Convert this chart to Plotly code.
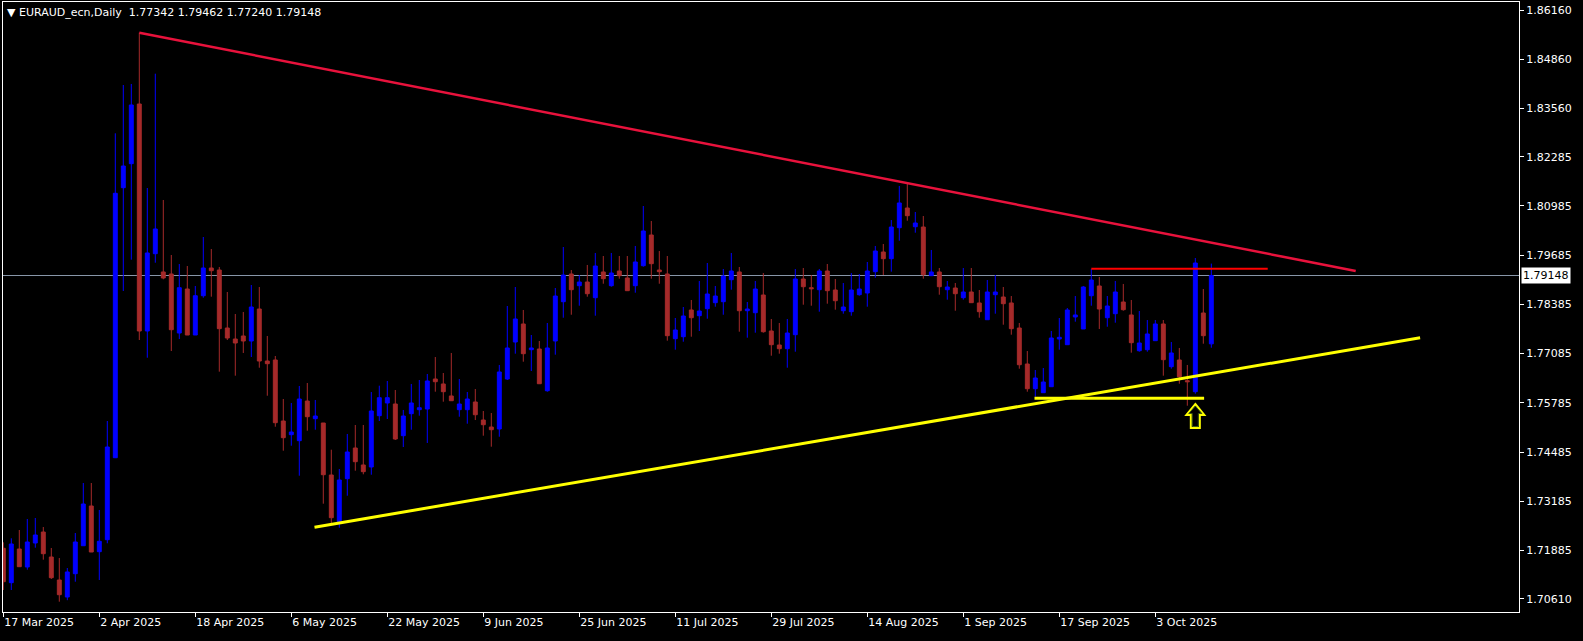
import pandas as pd
import plotly.graph_objects as go

# ---------------- data ----------------
symbol_title = "EURAUD_ecn,Daily"
first_day = "2025-03-17"
n_bars = 152

opens = [1.71941, 1.71032, 1.71922, 1.71447, 1.72081, 1.72371, 1.71711, 1.71103, 1.70654, 1.71270,
         1.72009, 1.73058, 1.71851, 1.72168, 1.74334, 1.81468, 1.82102, 1.83679, 1.77682, 1.79724,
         1.79241, 1.79188, 1.77629, 1.78791, 1.77576, 1.78614, 1.79346, 1.79293, 1.77761, 1.77470,
         1.77550, 1.77418, 1.78263, 1.76889, 1.76916, 1.75304, 1.74942, 1.74784, 1.75832, 1.75365,
         1.75251, 1.73877, 1.72644, 1.73780, 1.74591, 1.74142, 1.74089, 1.75444, 1.75780, 1.75753,
         1.74916, 1.75497, 1.75603, 1.75621, 1.76414, 1.76282, 1.75965, 1.75603, 1.75603, 1.75806,
         1.75330, 1.75145, 1.75093, 1.76414, 1.77391, 1.77867, 1.77188, 1.77206, 1.76104, 1.77418,
         1.78456, 1.79188, 1.78879, 1.78976, 1.78562, 1.79241, 1.78879, 1.79267, 1.79082, 1.78879,
         1.79407, 1.80218, 1.79293, 1.79188, 1.77478, 1.77531, 1.78237, 1.78086, 1.78271, 1.78430,
         1.78456, 1.79037, 1.79241, 1.78218, 1.78165, 1.78633, 1.77682, 1.77312, 1.77214, 1.77584,
         1.79056, 1.78826, 1.78773, 1.79267, 1.78765, 1.78218, 1.78192, 1.78641, 1.78686, 1.79249,
         1.79769, 1.79592, 1.80411, 1.80931, 1.80437, 1.80429, 1.79143, 1.79241, 1.78773, 1.78818,
         1.78562, 1.78712, 1.78422, 1.77980, 1.78641, 1.78580, 1.78422, 1.77761, 1.76810, 1.76157,
         1.76052, 1.76210, 1.77470, 1.77320, 1.78052, 1.77735, 1.78614, 1.78871, 1.78033, 1.78139,
         1.78448, 1.78105, 1.77161, 1.77188, 1.77426, 1.77867, 1.76739, 1.76916, 1.76369, 1.76078,
         1.78157, 1.77342]
highs = [1.72099, 1.72205, 1.72424, 1.72715, 1.72741, 1.72503, 1.71949, 1.71684, 1.71420, 1.72345,
         1.73666, 1.73666, 1.72953, 1.75304, 1.82905, 1.84181, 1.84208, 1.85563, 1.81460, 1.84480,
         1.81143, 1.79690, 1.79452, 1.79399, 1.78871, 1.80165, 1.79848, 1.79373, 1.78712, 1.78131,
         1.78184, 1.78897, 1.78844, 1.77550, 1.77021, 1.75885, 1.75780, 1.76229, 1.76308, 1.75859,
         1.75251, 1.74546, 1.74036, 1.74961, 1.75198, 1.75198, 1.76070, 1.76237, 1.76361, 1.76123,
         1.75595, 1.76282, 1.76387, 1.76546, 1.76995, 1.76572, 1.77101, 1.76414, 1.76070, 1.76149,
         1.75568, 1.75515, 1.76784, 1.78342, 1.78844, 1.78237, 1.77576, 1.77418, 1.77893, 1.78818,
         1.79901, 1.79293, 1.79161, 1.79426, 1.79743, 1.79663, 1.79743, 1.79663, 1.79663, 1.79928,
         1.80984, 1.80588, 1.79795, 1.79663, 1.78025, 1.78316, 1.78501, 1.79003, 1.79478, 1.78871,
         1.79320, 1.79743, 1.79373, 1.78448, 1.79003, 1.79214, 1.77999, 1.77893, 1.77999, 1.79320,
         1.79346, 1.79161, 1.79320, 1.79452, 1.79056, 1.78950, 1.79214, 1.79188, 1.79505, 1.79928,
         1.79980, 1.80614, 1.81513, 1.81566, 1.80826, 1.80720, 1.79822, 1.79346, 1.79003, 1.78950,
         1.79346, 1.79346, 1.78765, 1.79029, 1.79161, 1.78844, 1.78606, 1.77893, 1.77153, 1.76651,
         1.76704, 1.77682, 1.78025, 1.78289, 1.78606, 1.78871, 1.79320, 1.79109, 1.78606, 1.79003,
         1.78924, 1.78501, 1.78210, 1.77972, 1.77972, 1.77972, 1.77391, 1.77233, 1.76784, 1.79610,
         1.78791, 1.79462]
lows = [1.70839, 1.70839, 1.71455, 1.71375, 1.71957, 1.71640, 1.71130, 1.70530, 1.70570, 1.71058,
        1.72009, 1.71843, 1.71103, 1.72073, 1.74326, 1.78739, 1.79566, 1.77444, 1.76976, 1.79486,
        1.79048, 1.77153, 1.77470, 1.77576, 1.77576, 1.78562, 1.78588, 1.76607, 1.77444, 1.76501,
        1.77101, 1.76995, 1.76712, 1.75972, 1.75153, 1.74519, 1.74651, 1.73859, 1.75048, 1.75074,
        1.73119, 1.72601, 1.72485, 1.73330, 1.73991, 1.73896, 1.73885, 1.75304, 1.75357, 1.74802,
        1.74617, 1.75074, 1.75444, 1.74723, 1.76078, 1.75814, 1.75840, 1.75418, 1.75233, 1.75330,
        1.74916, 1.74625, 1.74889, 1.76387, 1.77082, 1.76871, 1.76625, 1.76289, 1.76078, 1.77056,
        1.78033, 1.78112, 1.78350, 1.78588, 1.78086, 1.78931, 1.78852, 1.79064, 1.78747, 1.78694,
        1.79381, 1.79064, 1.78931, 1.77426, 1.77188, 1.77399, 1.77531, 1.77682, 1.78007, 1.78324,
        1.78112, 1.78773, 1.77663, 1.77505, 1.77637, 1.77637, 1.77029, 1.77082, 1.76712, 1.77135,
        1.78377, 1.78350, 1.78192, 1.78403, 1.78245, 1.78139, 1.78086, 1.78614, 1.78324, 1.79090,
        1.79161, 1.79249, 1.80068, 1.80596, 1.80279, 1.79064, 1.79143, 1.78641, 1.78509, 1.78218,
        1.78509, 1.78430, 1.78033, 1.77980, 1.78139, 1.77848, 1.77584, 1.76686, 1.76078, 1.75946,
        1.76052, 1.76210, 1.77188, 1.77320, 1.77928, 1.77735, 1.78350, 1.77735, 1.77795, 1.77901,
        1.78218, 1.77109, 1.77135, 1.77135, 1.77426, 1.76501, 1.76686, 1.76289, 1.75708, 1.76025,
        1.77346, 1.77240]
closes = [1.71058, 1.72054, 1.71455, 1.72107, 1.72292, 1.71798, 1.71164, 1.70715, 1.71315, 1.72107,
          1.73111, 1.71843, 1.72126, 1.74617, 1.81320, 1.82041, 1.83653, 1.77682, 1.79743, 1.80377,
          1.79082, 1.77716, 1.78826, 1.77576, 1.78614, 1.79346, 1.79275, 1.77743, 1.77497, 1.77365,
          1.77418, 1.78316, 1.76889, 1.76818, 1.75259, 1.74863, 1.75013, 1.75885, 1.75418, 1.75436,
          1.73885, 1.72749, 1.73745, 1.74485, 1.74229, 1.73965, 1.75568, 1.75920, 1.75920, 1.74828,
          1.75436, 1.75780, 1.75655, 1.76361, 1.76342, 1.76078, 1.75840, 1.75753, 1.75885, 1.75470,
          1.75206, 1.75074, 1.76599, 1.77233, 1.77999, 1.77082, 1.77233, 1.76289, 1.77233, 1.78606,
          1.79161, 1.78773, 1.78976, 1.78667, 1.79399, 1.79064, 1.79214, 1.79143, 1.78747, 1.79505,
          1.80324, 1.79460, 1.79249, 1.77558, 1.77708, 1.78078, 1.78033, 1.78210, 1.78659, 1.78606,
          1.79135, 1.79267, 1.78218, 1.78263, 1.78791, 1.77663, 1.77320, 1.77214, 1.77629, 1.79056,
          1.78852, 1.78799, 1.79267, 1.78747, 1.78482, 1.78316, 1.78765, 1.78791, 1.79267, 1.79795,
          1.79592, 1.80429, 1.81064, 1.80728, 1.80535, 1.79169, 1.79241, 1.78852, 1.78844, 1.78667,
          1.78712, 1.78430, 1.78192, 1.78712, 1.78712, 1.78403, 1.77743, 1.76791, 1.76157, 1.76440,
          1.76334, 1.77497, 1.77515, 1.78237, 1.78105, 1.78844, 1.79029, 1.78263, 1.78342, 1.78712,
          1.78245, 1.77373, 1.77365, 1.77603, 1.77867, 1.76924, 1.77101, 1.76474, 1.76342, 1.79478,
          1.77558, 1.79148]

# drawn objects (bar index, price)
resistance_x = [17, 169.05]
resistance_y = [1.85563, 1.79268]
support_x = [38.9, 177.1]
support_y = [1.72496, 1.77505]
red_level_x = [136, 158.05]
red_level_y = [1.79325, 1.79325]
yellow_level_x = [128.9, 150.1]
yellow_level_y = [1.75904, 1.75904]
arrow_bar = 149
arrow_price = 1.75436
last_price = 1.79148

price_ticks = [1.86160, 1.84860, 1.83560, 1.82285, 1.80985, 1.79685, 1.78385,
               1.77085, 1.75785, 1.74485, 1.73185, 1.71885, 1.70610]
date_tick_bars = [0, 12, 24, 36, 48, 60, 72, 84, 96, 108, 120, 132, 144]

# ---------------- figure ----------------
dates = pd.bdate_range(first_day, periods=n_bars)
bars = list(range(n_bars))
date_tick_text = [f"{dates[i].day} {dates[i].strftime('%b %Y')}" for i in date_tick_bars]

FONT = "DejaVu Sans"
UP = "#0000FF"
DOWN = "#A52A2A"

fig = go.Figure()
fig.add_trace(go.Candlestick(
    x=bars, open=opens, high=highs, low=lows, close=closes,
    increasing=dict(line=dict(color=UP, width=1), fillcolor=UP),
    decreasing=dict(line=dict(color=DOWN, width=1), fillcolor=DOWN),
    whiskerwidth=0, showlegend=False, hoverinfo="skip"))

fig.add_trace(go.Scatter(x=resistance_x, y=resistance_y, mode="lines",
                         line=dict(color="#E8123C", width=2.5), showlegend=False))
fig.add_trace(go.Scatter(x=support_x, y=support_y, mode="lines",
                         line=dict(color="#FFFF00", width=3), showlegend=False))
fig.add_trace(go.Scatter(x=red_level_x, y=red_level_y, mode="lines",
                         line=dict(color="#FF0000", width=2), showlegend=False))
fig.add_trace(go.Scatter(x=yellow_level_x, y=yellow_level_y, mode="lines",
                         line=dict(color="#FFFF00", width=3), showlegend=False))

fig.add_shape(type="line", xref="paper", x0=0, x1=1, yref="y", y0=last_price, y1=last_price,
              line=dict(color="#8896A8", width=1), layer="below")

# hollow up-arrow marker (fixed pixel size, anchored at the bar/price)
fig.add_shape(type="path", xref="x", yref="y", xsizemode="pixel", ysizemode="pixel",
              xanchor=arrow_bar, yanchor=arrow_price,
              path="M 0 12 L 9 1 L 4.5 1 L 4.5 -12 L -4.5 -12 L -4.5 1 L -9 1 Z",
              line=dict(color="#FFFF00", width=2), fillcolor="rgba(0,0,0,0)", layer="above")
fig.add_shape(type="path", xref="x", yref="y", xsizemode="pixel", ysizemode="pixel",
              xanchor=arrow_bar, yanchor=arrow_price,
              path="M 0 10 L 6.5 2.5 L 3 2.5 L 3 -10.5 L -3 -10.5 L -3 2.5 L -6.5 2.5 Z",
              line=dict(color="#3A5A10", width=1), fillcolor="rgba(0,0,0,0)", layer="above")

fig.add_annotation(xref="paper", yref="paper", x=0, y=1, xanchor="left", yanchor="middle",
                   xshift=2, yshift=-10,
                   text="▼ " + symbol_title + "\u00a0\u00a0" + " ".join(
                       f"{v:.5f}" for v in (opens[-1], highs[-1], lows[-1], closes[-1])),
                   showarrow=False, font=dict(family=FONT, size=11, color="white"))

fig.add_annotation(xref="paper", yref="y", x=1, y=last_price, xanchor="left", yanchor="middle",
                   xshift=2, text=f"{last_price:.5f}", showarrow=False, bgcolor="white",
                   borderpad=1, font=dict(family=FONT, size=11, color="black"))

fig.update_layout(
    template="none",
    width=1583, height=641,
    margin=dict(l=3, r=64, t=2, b=29, autoexpand=False),
    paper_bgcolor="black", plot_bgcolor="black",
    showlegend=False,
    xaxis=dict(range=[-0.0375, 189.46], tickvals=date_tick_bars, ticktext=date_tick_text,
               ticks="outside", ticklen=4, tickcolor="white", tickwidth=1,
               ticklabelposition="outside right",
               showline=True, linecolor="white", linewidth=1, mirror=True,
               showgrid=False, zeroline=False, automargin=False,
               tickfont=dict(family=FONT, size=11, color="white"),
               rangeslider=dict(visible=False), fixedrange=True),
    yaxis=dict(side="right", range=[1.702578, 1.863740], tickvals=price_ticks,
               ticktext=[f"{v:.5f}" for v in price_ticks],
               ticks="outside", ticklen=4, tickcolor="white", tickwidth=1,
               showline=True, linecolor="white", linewidth=1, mirror=True,
               showgrid=False, zeroline=False, automargin=False,
               tickfont=dict(family=FONT, size=11, color="white"), fixedrange=True),
)

fig.write_html("out.html", config={"displayModeBar": False},
               post_script="document.body.style.margin='0';document.body.style.background='black';")
